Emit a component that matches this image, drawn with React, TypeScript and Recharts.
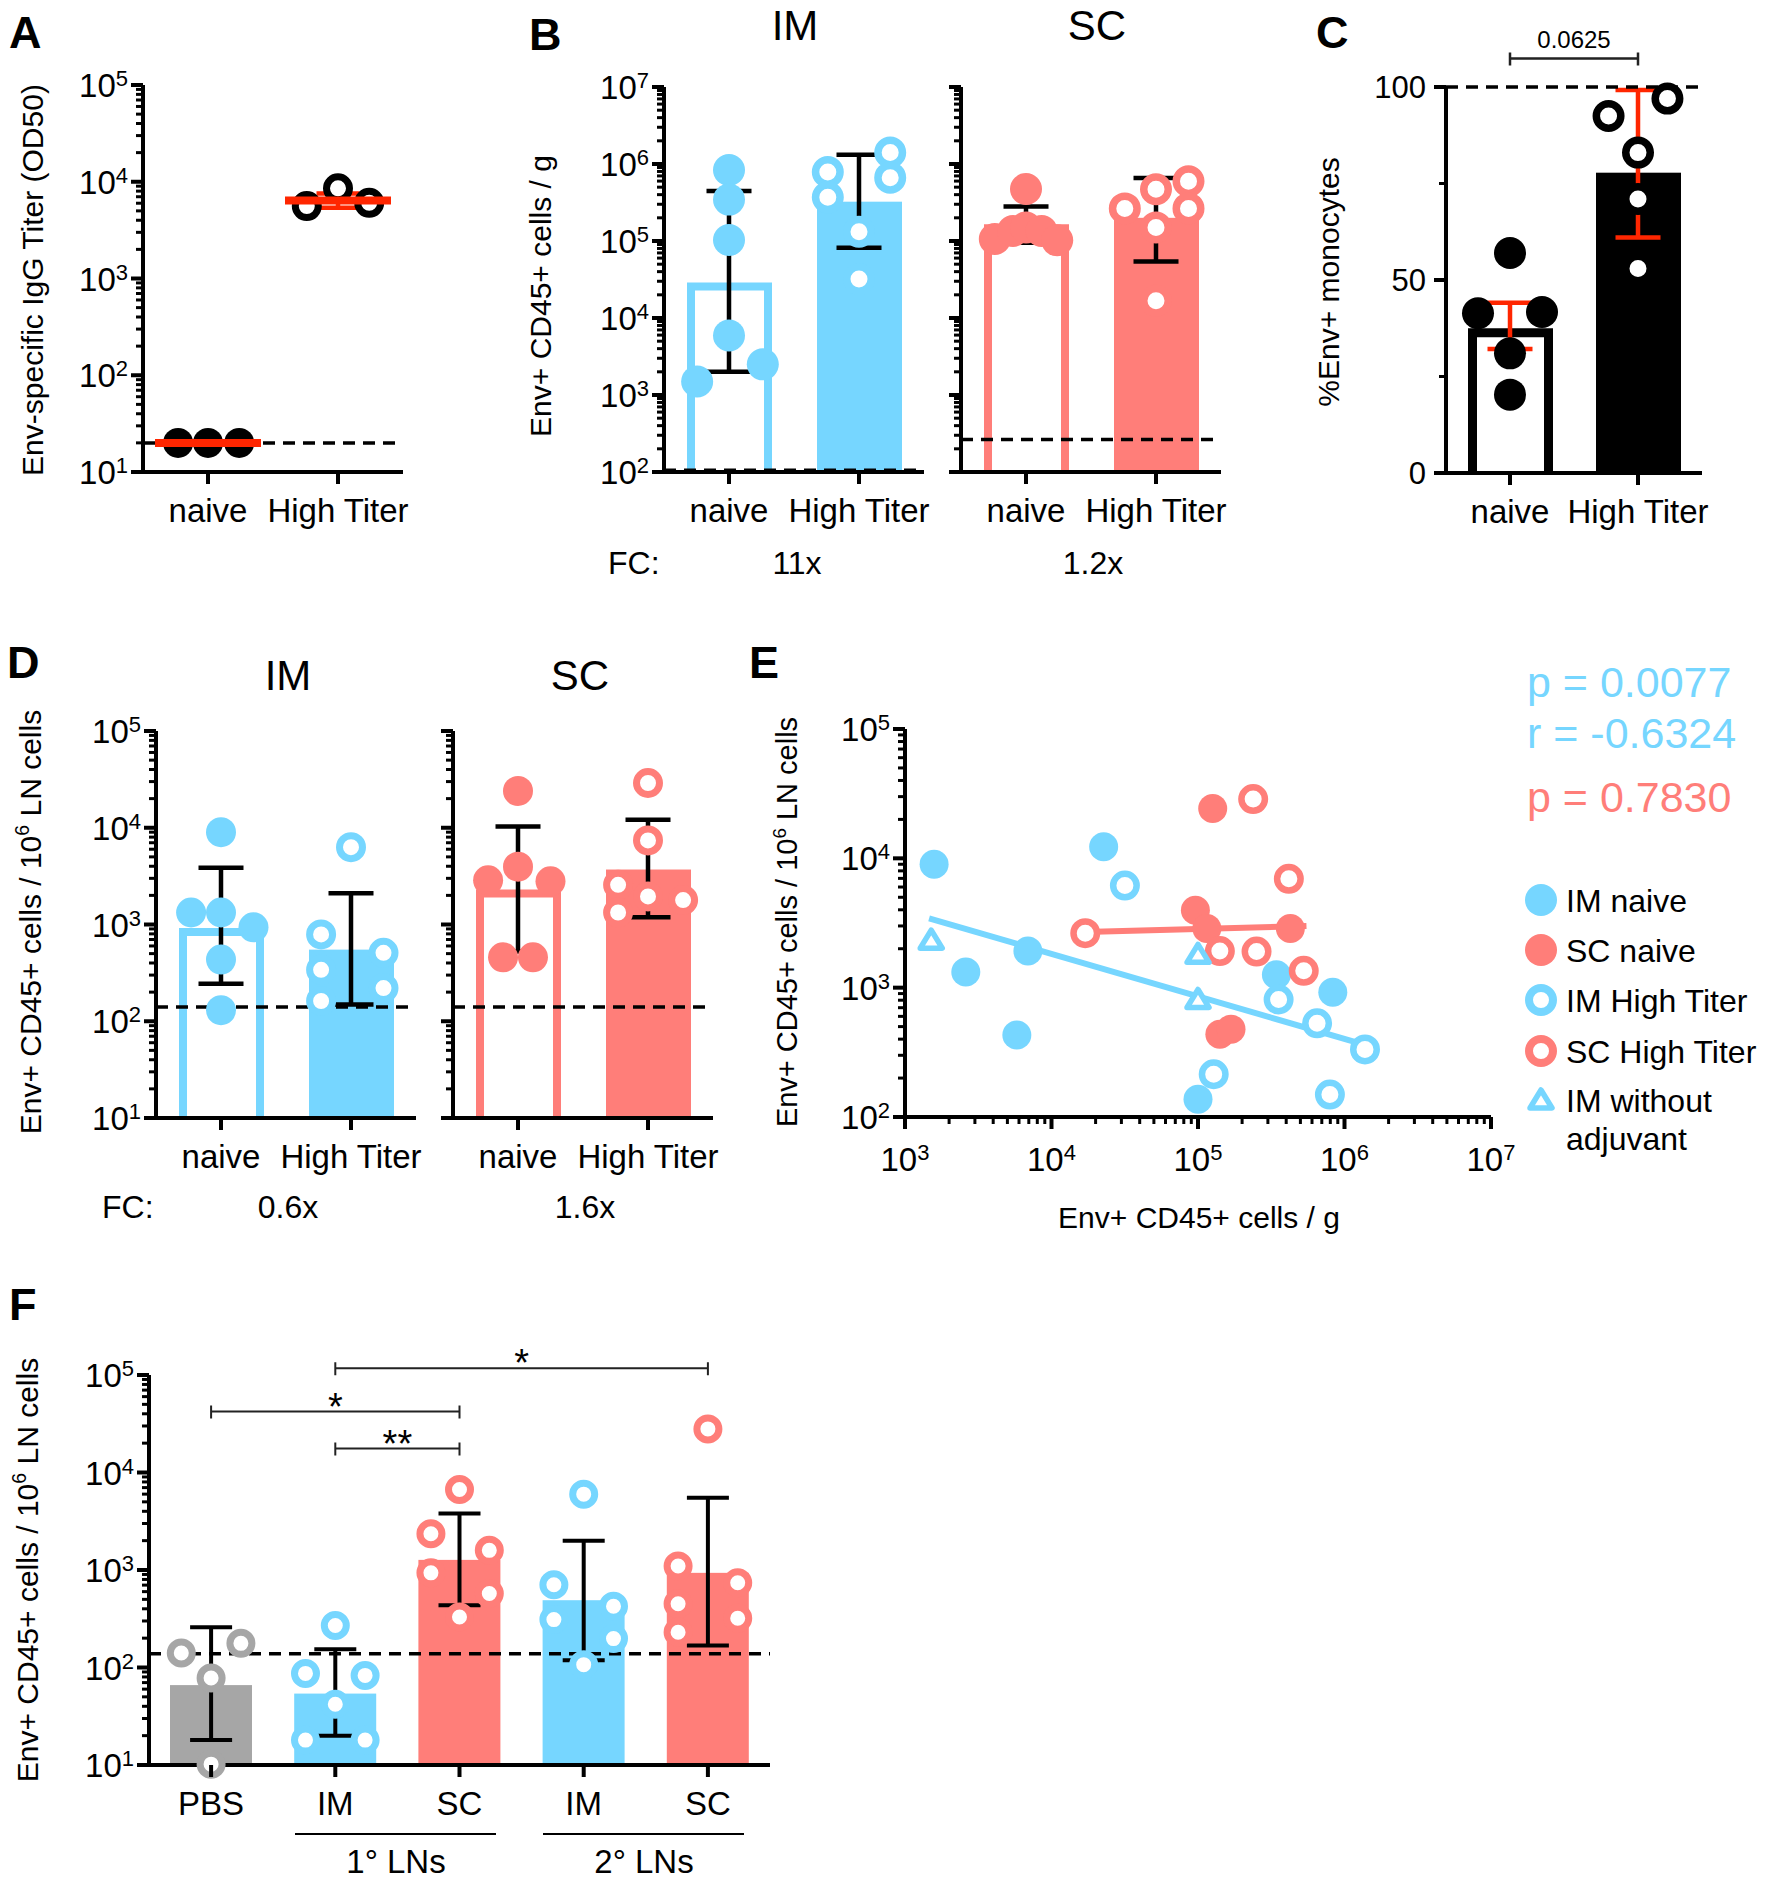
import React from 'react'
import { ComposedChart, Bar, Scatter, XAxis, YAxis, ReferenceLine, ErrorBar } from 'recharts'

const FONT = '"Liberation Sans", Arial, Helvetica, sans-serif'
const BLUE = '#76D6FF'
const SALMON = '#FF7E79'
const GREY = '#A6A6A6'
const RED = '#FF2600'
const INK = '#000'

// ---- A: Env-specific IgG titer ----
const aGroups = ['naive', 'High Titer']
const aNaive = [20, 20, 20]
const aNaiveDx = [-0.23, 0, 0.24]
const aHighTiter = [5600, 8550, 6050]
const aHighTiterDx = [-0.24, 0, 0.24]
const aMean = [20, 6400]
const aSdLow = [20, 5400]
const aSdHigh = [20, 7550]
const aLimit = 20

// ---- B: Env+ CD45+ cells / g ----
const bGroups = ['naive', 'High Titer']
const bImNaive = [836000, 345000, 103000, 5920, 1500, 2500]
const bImNaiveDx = [0, 0, 0, 0, -0.245, 0.26]
const bImHigh = [787000, 369000, 132000, 32000, 1410000, 665000]
const bImHighDx = [-0.24, -0.24, 0, 0, 0.24, 0.24]
const bImMean = [29000, 324000]
const bImLow = [2000, 81600]
const bImUp = [446000, 1320000]
const bImLimit = 105
const bScNaive = [473000, 106000, 135000, 150000, 135000, 102000]
const bScNaiveDx = [0, -0.24, -0.1, 0, 0.12, 0.24]
const bScHigh = [265000, 470000, 597000, 265000, 150000, 16700]
const bScHighDx = [-0.24, 0, 0.25, 0.25, 0, 0]
const bScMean = [165000, 200000]
const bScLow = [94800, 54000]
const bScUp = [281000, 660000]
const bScLimit = 265
const bFold = ['11x', '1.2x']

// ---- C: %Env+ monocytes ----
const cGroups = ['naive', 'High Titer']
const cNaive = [57, 41.4, 41.7, 31, 20.3]
const cNaiveDx = [0, -0.25, 0.25, 0, 0]
const cHigh = [92.5, 97, 83, 71, 53]
const cHighDx = [-0.23, 0.23, 0, 0, 0]
const cMean = [37.5, 77.8]
const cLow = [32.1, 61]
const cUp = [44.1, 99.2]
const cLimit = 100
const cPValue = '0.0625'

// ---- D: Env+ CD45+ cells / 10^6 LN cells ----
const dGroups = ['naive', 'High Titer']
const dImNaive = [9000, 1330, 1330, 935, 434, 130]
const dImNaiveDx = [0, -0.23, 0, 0.25, 0, 0]
const dImHigh = [6300, 790, 340, 162, 510, 220]
const dImHighDx = [0, -0.23, -0.23, -0.23, 0.25, 0.25]
const dImMean = [920, 550]
const dImLow = [244, 149]
const dImUp = [3860, 2110]
const dScNaive = [24000, 3960, 2860, 2800, 458, 458]
const dScNaiveDx = [0, 0, -0.23, 0.25, -0.115, 0.115]
const dScHigh = [29000, 7400, 2570, 1330, 1950, 1790]
const dScHighDx = [0, 0, -0.23, -0.23, 0, 0.27]
const dScMean = [2300, 3700]
const dScLow = [525, 1190]
const dScUp = [10300, 12100]
const dLimit = 140
const dFold = ['0.6x', '1.6x']

// ---- E: correlation, [cells/g, cells/10^6 LN cells] ----
const eImNaive = [[1580, 9000], [2600, 1320], [5800, 430], [6900, 1920], [22700, 12300], [100000, 137], [343000, 1260], [832000, 920]]
const eScNaive = [[126000, 24300], [96000, 3960], [115000, 2870], [427000, 2870], [141000, 437], [168000, 478]]
const eImHigh = [[31700, 6160], [355000, 810], [650000, 530], [1380000, 333], [128000, 214], [795000, 149]]
const eScHigh = [[238000, 28700], [417000, 6950], [17000, 2640], [141000, 1920], [251000, 1900], [527000, 1350]]
const eImNoAdjuvant = [[1510, 2330], [100000, 1810], [100000, 810]]
const eImFit = [[1460, 3430], [1400000, 360]]
const eScFit = [[17000, 2690], [550000, 3000]]
const eStats = ['p = 0.0077', 'r = -0.6324', 'p = 0.7830']
const eLegend = ['IM naive', 'SC naive', 'IM High Titer', 'SC High Titer', 'IM without']

// ---- F: LN cells by site ----
const fGroups = ['PBS', 'IM', 'SC', 'IM', 'SC']
const fPbs = [141, 177, 78, 10.2]
const fPbsDx = [-0.24, 0.24, 0, 0]
const fIm1 = [270, 87, 83, 42, 18, 18]
const fIm1Dx = [0, -0.24, 0.24, 0, -0.24, 0.24]
const fSc1 = [6700, 2350, 1590, 935, 575, 330]
const fSc1Dx = [0, -0.23, 0.24, -0.23, 0.24, 0]
const fIm2 = [6000, 705, 425, 310, 198, 107]
const fIm2Dx = [0, -0.24, 0.24, -0.24, 0.24, 0]
const fSc2 = [28000, 1100, 740, 450, 320, 230]
const fSc2Dx = [0, -0.24, 0.24, -0.24, 0.24, -0.24]
const fMean = [66, 54, 1270, 490, 935]
const fLow = [18, 20, 436, 119, 168]
const fUp = [258, 154, 3800, 2000, 5500]
const fLimit = 138
const fBrackets = [
  { from: 1, to: 4, at: 117000, mark: '*' },
  { from: 0, to: 2, at: 42200, mark: '*' },
  { from: 1, to: 2, at: 17600, mark: '**' },
]
const fColors = [GREY, BLUE, SALMON, BLUE, SALMON]

type Box = { left: number; top: number; width: number; height: number }
type DotSet = { group: number; values: number[]; dx: number[]; color: string; open: boolean }
type BarLook = { color: string; open: boolean }

const AXIS = { stroke: INK, strokeWidth: 4 }

function logTicks(lo: number, hi: number) {
  const out: number[] = []
  for (let e = Math.round(Math.log10(lo)); e < Math.round(Math.log10(hi)); e++)
    for (let m = 1; m < 10; m++) out.push(m * Math.pow(10, e))
  out.push(hi)
  return out
}

const isDecade = (v: number) => {
  const e = Math.log10(v)
  return Math.abs(e - Math.round(e)) < 1e-6
}

const Power = ({ v }: { v: number }) => (
  <>
    10<tspan fontSize={22} dy={-11}>{Math.round(Math.log10(v))}</tspan>
  </>
)

const logYTick = (labels: boolean) => (p: any) => {
  const v = p.payload.value
  const major = isDecade(v)
  return (
    <g>
      <line x1={p.x} x2={p.x - (major ? 12 : 7)} y1={p.y} y2={p.y} stroke={INK} strokeWidth={major ? 4 : 3} />
      {major && labels ? (
        <text x={p.x - 15} y={p.y + 12} textAnchor="end" fontFamily={FONT} fontSize={33} fill={INK}>
          <Power v={v} />
        </text>
      ) : null}
    </g>
  )
}

const logXTick = (p: any) => {
  const v = p.payload.value
  const major = isDecade(v)
  return (
    <g>
      <line x1={p.x} x2={p.x} y1={p.y} y2={p.y + (major ? 12 : 7)} stroke={INK} strokeWidth={major ? 4 : 3} />
      {major ? (
        <text x={p.x} y={p.y + 54} textAnchor="middle" fontFamily={FONT} fontSize={33} fill={INK}>
          <Power v={v} />
        </text>
      ) : null}
    </g>
  )
}

const linYTick = (p: any) => {
  const v = p.payload.value
  const major = v % 50 === 0
  return (
    <g>
      <line x1={p.x} x2={p.x - (major ? 12 : 7)} y1={p.y} y2={p.y} stroke={INK} strokeWidth={major ? 4 : 3} />
      {major ? (
        <text x={p.x - 20} y={p.y + 11} textAnchor="end" fontFamily={FONT} fontSize={31} fill={INK}>
          {v}
        </text>
      ) : null}
    </g>
  )
}

// category ids are slot numbers, so repeated group names (IM, SC) stay separate bands
const catTick = (names: string[]) => (p: any) => (
  <g>
    <line x1={p.x} x2={p.x} y1={p.y} y2={p.y + 12} stroke={INK} strokeWidth={4} />
    <text x={p.x} y={p.y + 50} textAnchor="middle" fontFamily={FONT} fontSize={33} fill={INK}>
      {names[Number(p.payload.value)]}
    </text>
  </g>
)

const dotShape = (color: string, open: boolean, r: number, ring: number) => (p: any) =>
  open ? (
    <circle cx={p.cx} cy={p.cy} r={r - ring / 2} fill="#fff" stroke={color} strokeWidth={ring} />
  ) : (
    <circle cx={p.cx} cy={p.cy} r={r} fill={color} />
  )

const meanShape = (w: number, color: string) => (p: any) =>
  w > 0 ? <line x1={p.cx - w / 2} x2={p.cx + w / 2} y1={p.cy} y2={p.cy} stroke={color} strokeWidth={8} /> : <g />

const blank = () => <g />

const barShape = (looks: BarLook[], sw: number) => (p: any) => {
  const look = looks[p.index] || looks[0]
  const { x, y, width, height } = p
  if (look.open) {
    const l = x + sw / 2
    const r = x + width - sw / 2
    const t = y + sw / 2
    const b = y + height
    return <path d={`M${l},${b}V${t}H${r}V${b}`} fill="none" stroke={look.color} strokeWidth={sw} />
  }
  return <rect x={x} y={y} width={width} height={height} fill={look.color} />
}

const bracketShape = (mark: string, size: number, dy: number, sw: number) => (p: any) => {
  const { x1, y1, x2 } = p
  return (
    <g>
      <path d={`M${x1},${y1 - 6}V${y1 + 7}M${x1},${y1}H${x2}M${x2},${y1 - 6}V${y1 + 7}`} stroke="#222" strokeWidth={sw} fill="none" />
      <text x={(x1 + x2) / 2} y={y1 + dy} textAnchor="middle" fontFamily={FONT} fontSize={size} fill={INK}>
        {mark}
      </text>
    </g>
  )
}

const toPoints = (s: DotSet) => s.values.map((v, i) => ({ x: s.group + s.dx[i], y: v }))
const pairs = (a: number[][]) => a.map(([x, y]) => ({ x, y }))

type PanelProps = {
  box: Box
  groups: string[]
  log: boolean
  domain: [number, number]
  yLabels: boolean
  means: number[]
  lows: number[]
  ups: number[]
  bars?: BarLook[]
  barW?: number
  outline?: number
  dots: DotSet[]
  r: number
  ring: number
  errColor: string
  capW: number
  errW?: number
  meanLineW?: number
  limit: number
  limitBelow?: boolean
  padTop?: number
  children?: React.ReactNode
}

function DotBarPanel(p: PanelProps) {
  const padT = p.padTop ?? 40
  const rows = p.groups.map((_, i) => ({ slot: String(i), mean: p.means[i] }))
  const errRows = p.groups.map((_, i) => ({
    x: i,
    y: p.means[i],
    e: [p.means[i] - p.lows[i], p.ups[i] - p.means[i]],
  }))
  const yTicks = p.log ? logTicks(p.domain[0], p.domain[1]) : [0, 25, 50, 75, 100]
  const limitLine = (
    <ReferenceLine xAxisId="num" y={p.limit} stroke={INK} strokeWidth={3.5} strokeDasharray="12 8" />
  )
  return (
    <div style={{ position: 'absolute', left: p.box.left - 120, top: p.box.top - padT }}>
      <ComposedChart
        width={p.box.width + 160}
        height={p.box.height + padT + 110}
        data={rows}
        margin={{ top: padT, right: 40, bottom: 0, left: 0 }}
      >
        <XAxis xAxisId="cat" dataKey="slot" type="category" scale="band" height={110} interval={0} axisLine={AXIS}
          tickLine={false} tickSize={0} tickMargin={0} tick={catTick(p.groups)} />
        <XAxis xAxisId="num" dataKey="x" type="number" domain={[-0.5, p.groups.length - 0.5]} hide allowDataOverflow />
        <YAxis width={120} type="number" scale={p.log ? 'log' : 'linear'} domain={p.domain} ticks={yTicks}
          interval={0} axisLine={AXIS} tickLine={false} tickSize={0} tickMargin={0}
          tick={p.log ? logYTick(p.yLabels) : linYTick} />
        {p.limitBelow ? limitLine : null}
        {p.bars ? (
          <Bar xAxisId="cat" dataKey="mean" barSize={p.barW ?? 85} shape={barShape(p.bars, p.outline ?? 8)}
            isAnimationActive={false} />
        ) : null}
        {p.dots.map((s, i) => (
          <Scatter key={i} xAxisId="num" data={toPoints(s)} dataKey="y"
            shape={dotShape(s.color, s.open, p.r, p.ring)} isAnimationActive={false} />
        ))}
        <Scatter xAxisId="num" data={errRows} dataKey="y" shape={meanShape(p.meanLineW ?? 0, p.errColor)}
          isAnimationActive={false}>
          <ErrorBar dataKey="e" direction="y" width={p.capW / 2} stroke={p.errColor} strokeWidth={p.errW ?? 4.5} />
        </Scatter>
        {p.limitBelow ? null : limitLine}
        {p.children}
      </ComposedChart>
    </div>
  )
}

function PanelE() {
  const box = { left: 905, top: 729, width: 586, height: 388 }
  return (
    <div style={{ position: 'absolute', left: box.left - 120, top: box.top - 40 }}>
      <ComposedChart width={box.width + 160} height={box.height + 150} margin={{ top: 40, right: 40, bottom: 0, left: 0 }}>
        <XAxis dataKey="x" type="number" scale="log" domain={[1e3, 1e7]} ticks={logTicks(1e3, 1e7)} interval={0}
          height={110} axisLine={AXIS} tickLine={false} tickSize={0} tickMargin={0} tick={logXTick} />
        <YAxis type="number" scale="log" domain={[1e2, 1e5]} ticks={logTicks(1e2, 1e5)} interval={0} width={120}
          axisLine={AXIS} tickLine={false} tickSize={0} tickMargin={0} tick={logYTick(true)} />
        <Scatter data={pairs(eImFit)} dataKey="y" line={{ stroke: BLUE, strokeWidth: 6 }} shape={blank} isAnimationActive={false} />
        <Scatter data={pairs(eScFit)} dataKey="y" line={{ stroke: SALMON, strokeWidth: 6 }} shape={blank} isAnimationActive={false} />
        <Scatter data={pairs(eImNaive)} dataKey="y" shape={dotShape(BLUE, false, 14.5, 6)} isAnimationActive={false} />
        <Scatter data={pairs(eScNaive)} dataKey="y" shape={dotShape(SALMON, false, 14.5, 6)} isAnimationActive={false} />
        <Scatter data={pairs(eImHigh)} dataKey="y" shape={dotShape(BLUE, true, 15, 6.5)} isAnimationActive={false} />
        <Scatter data={pairs(eScHigh)} dataKey="y" shape={dotShape(SALMON, true, 15, 6.5)} isAnimationActive={false} />
        <Scatter data={pairs(eImNoAdjuvant)} dataKey="y" shape={(p: any) => <Triangle cx={p.cx} cy={p.cy} />}
          isAnimationActive={false} />
      </ComposedChart>
    </div>
  )
}

function Triangle({ cx, cy }: { cx: number; cy: number }) {
  return (
    <path d={`M${cx},${cy - 10}L${cx + 11},${cy + 8}L${cx - 11},${cy + 8}Z`} fill="#fff" stroke={BLUE}
      strokeWidth={5.5} strokeLinejoin="round" />
  )
}

function LnLabel({ cx, cy, size }: { cx: number; cy: number; size: number }) {
  return (
    <text transform={`translate(${cx},${cy}) rotate(-90)`} y={size * 0.35} textAnchor="middle" fontFamily={FONT} fontSize={size} fill={INK}>
      Env+ CD45+ cells / 10<tspan fontSize={size * 0.65} dy={-size * 0.4}>6</tspan>
      <tspan dy={size * 0.4}> LN cells</tspan>
    </text>
  )
}

function Overlay() {
  const letter = (x: number, y: number, s: string) => (
    <text x={x} y={y} fontFamily={FONT} fontSize={45} fontWeight="bold" fill={INK}>{s}</text>
  )
  const label = (x: number, y: number, s: string, size: number, anchor = 'middle', color = INK) => (
    <text x={x} y={y} fontFamily={FONT} fontSize={size} textAnchor={anchor} fill={color}>{s}</text>
  )
  const vlabel = (cx: number, cy: number, s: string, size: number) => (
    <text transform={`translate(${cx},${cy}) rotate(-90)`} y={size * 0.35} textAnchor="middle" fontFamily={FONT} fontSize={size} fill={INK}>{s}</text>
  )
  const legendY = [900, 950, 1000, 1051, 1100]
  const legendMarks = [
    <circle key="a" cx={1541} cy={legendY[0]} r={16} fill={BLUE} />,
    <circle key="b" cx={1541} cy={legendY[1]} r={16} fill={SALMON} />,
    <circle key="c" cx={1541} cy={legendY[2]} r={12} fill="#fff" stroke={BLUE} strokeWidth={8} />,
    <circle key="d" cx={1541} cy={legendY[3]} r={12} fill="#fff" stroke={SALMON} strokeWidth={8} />,
    <Triangle key="e" cx={1541} cy={legendY[4]} />,
  ]
  return (
    <svg width={1770} height={1882} style={{ position: 'absolute', left: 0, top: 0, pointerEvents: 'none' }}>
      {letter(9, 48, 'A')}
      {letter(529, 50, 'B')}
      {letter(1316, 48, 'C')}
      {letter(7, 678, 'D')}
      {letter(749, 678, 'E')}
      {letter(9, 1320, 'F')}

      {vlabel(32, 280, 'Env-specific IgG Titer (OD50)', 30)}
      {vlabel(540, 296, 'Env+ CD45+ cells / g', 30)}
      {vlabel(1328, 282, '%Env+ monocytes', 30)}
      <LnLabel cx={30} cy={922} size={30} />
      <LnLabel cx={787} cy={922} size={29} />
      <LnLabel cx={27} cy={1570} size={30} />

      {label(795, 40, 'IM', 42)}
      {label(1097, 40, 'SC', 42)}
      {label(288, 690, 'IM', 42)}
      {label(580, 690, 'SC', 42)}

      {label(608, 574, 'FC:', 32, 'start')}
      {label(797, 574, bFold[0], 32)}
      {label(1093, 574, bFold[1], 32)}
      {label(102, 1218, 'FC:', 32, 'start')}
      {label(288, 1218, dFold[0], 32)}
      {label(585, 1218, dFold[1], 32)}

      {label(1199, 1228, 'Env+ CD45+ cells / g', 30)}
      {label(1527, 697, eStats[0], 43, 'start', BLUE)}
      {label(1527, 748, eStats[1], 43, 'start', BLUE)}
      {label(1527, 812, eStats[2], 43, 'start', SALMON)}
      {legendMarks}
      {eLegend.map((s, i) => label(1566, legendY[i] + 11.5, s, 32, 'start'))}
      {label(1566, 1138 + 11.5, 'adjuvant', 32, 'start')}

      <line x1={295} x2={496} y1={1834} y2={1834} stroke={INK} strokeWidth={2} />
      <line x1={543} x2={744} y1={1834} y2={1834} stroke={INK} strokeWidth={2} />
      {label(396, 1873, '1° LNs', 33)}
      {label(644, 1873, '2° LNs', 33)}
    </svg>
  )
}

export default function App() {
  const blueLooks = [{ color: BLUE, open: true }, { color: BLUE, open: false }]
  const salmonLooks = [{ color: SALMON, open: true }, { color: SALMON, open: false }]
  return (
    <div style={{ position: 'absolute', left: 0, top: 0, width: 1770, height: 1882, background: '#fff', fontFamily: FONT }}>
      <DotBarPanel
        box={{ left: 143, top: 85, width: 260, height: 387 }}
        groups={aGroups} log domain={[10, 1e5]} yLabels
        means={aMean} lows={aSdLow} ups={aSdHigh}
        dots={[
          { group: 0, values: aNaive, dx: aNaiveDx, color: INK, open: false },
          { group: 1, values: aHighTiter, dx: aHighTiterDx, color: INK, open: true },
        ]}
        r={15} ring={7} errColor={RED} capW={43} meanLineW={106} limit={aLimit} limitBelow
      />
      <DotBarPanel
        box={{ left: 664, top: 87, width: 260, height: 385 }}
        groups={bGroups} log domain={[100, 1e7]} yLabels
        means={bImMean} lows={bImLow} ups={bImUp} bars={blueLooks}
        dots={[
          { group: 0, values: bImNaive, dx: bImNaiveDx, color: BLUE, open: false },
          { group: 1, values: bImHigh, dx: bImHighDx, color: BLUE, open: true },
        ]}
        r={16} ring={7.5} errColor={INK} capW={45} limit={bImLimit}
      />
      <DotBarPanel
        box={{ left: 961, top: 87, width: 260, height: 385 }}
        groups={bGroups} log domain={[100, 1e7]} yLabels={false}
        means={bScMean} lows={bScLow} ups={bScUp} bars={salmonLooks}
        dots={[
          { group: 0, values: bScNaive, dx: bScNaiveDx, color: SALMON, open: false },
          { group: 1, values: bScHigh, dx: bScHighDx, color: SALMON, open: true },
        ]}
        r={16} ring={7.5} errColor={INK} capW={45} limit={bScLimit}
      />
      <DotBarPanel
        box={{ left: 1446, top: 87, width: 256, height: 386 }}
        groups={cGroups} log={false} domain={[0, 100]} yLabels
        means={cMean} lows={cLow} ups={cUp}
        bars={[{ color: INK, open: true }, { color: INK, open: false }]} outline={9}
        dots={[
          { group: 0, values: cNaive, dx: cNaiveDx, color: INK, open: false },
          { group: 1, values: cHigh, dx: cHighDx, color: INK, open: true },
        ]}
        r={16} ring={7.5} errColor={RED} capW={45} limit={cLimit} padTop={90}
      >
        <ReferenceLine xAxisId="num" segment={[{ x: 0, y: 107.4 }, { x: 1, y: 107.4 }]} ifOverflow="visible"
          shape={bracketShape(cPValue, 24, -10, 2.5)} />
      </DotBarPanel>
      <DotBarPanel
        box={{ left: 156, top: 731, width: 260, height: 387 }}
        groups={dGroups} log domain={[10, 1e5]} yLabels
        means={dImMean} lows={dImLow} ups={dImUp} bars={blueLooks}
        dots={[
          { group: 0, values: dImNaive, dx: dImNaiveDx, color: BLUE, open: false },
          { group: 1, values: dImHigh, dx: dImHighDx, color: BLUE, open: true },
        ]}
        r={15} ring={7} errColor={INK} capW={45} limit={dLimit}
      />
      <DotBarPanel
        box={{ left: 453, top: 731, width: 260, height: 387 }}
        groups={dGroups} log domain={[10, 1e5]} yLabels={false}
        means={dScMean} lows={dScLow} ups={dScUp} bars={salmonLooks}
        dots={[
          { group: 0, values: dScNaive, dx: dScNaiveDx, color: SALMON, open: false },
          { group: 1, values: dScHigh, dx: dScHighDx, color: SALMON, open: true },
        ]}
        r={15} ring={7} errColor={INK} capW={45} limit={dLimit}
      />
      <PanelE />
      <DotBarPanel
        box={{ left: 149, top: 1375, width: 621, height: 390 }}
        groups={fGroups} log domain={[10, 1e5]} yLabels
        means={fMean} lows={fLow} ups={fUp}
        bars={fColors.map((color) => ({ color, open: false }))} barW={82}
        dots={[
          { group: 0, values: fPbs, dx: fPbsDx, color: GREY, open: true },
          { group: 1, values: fIm1, dx: fIm1Dx, color: BLUE, open: true },
          { group: 2, values: fSc1, dx: fSc1Dx, color: SALMON, open: true },
          { group: 3, values: fIm2, dx: fIm2Dx, color: BLUE, open: true },
          { group: 4, values: fSc2, dx: fSc2Dx, color: SALMON, open: true },
        ]}
        r={14.5} ring={7} errColor={INK} capW={42} errW={4} limit={fLimit} padTop={60}
      >
        {fBrackets.map((b, i) => (
          <ReferenceLine key={i} xAxisId="num" segment={[{ x: b.from, y: b.at }, { x: b.to, y: b.at }]}
            ifOverflow="visible" shape={bracketShape(b.mark, 38, 8, 2)} />
        ))}
      </DotBarPanel>
      <Overlay />
    </div>
  )
}
